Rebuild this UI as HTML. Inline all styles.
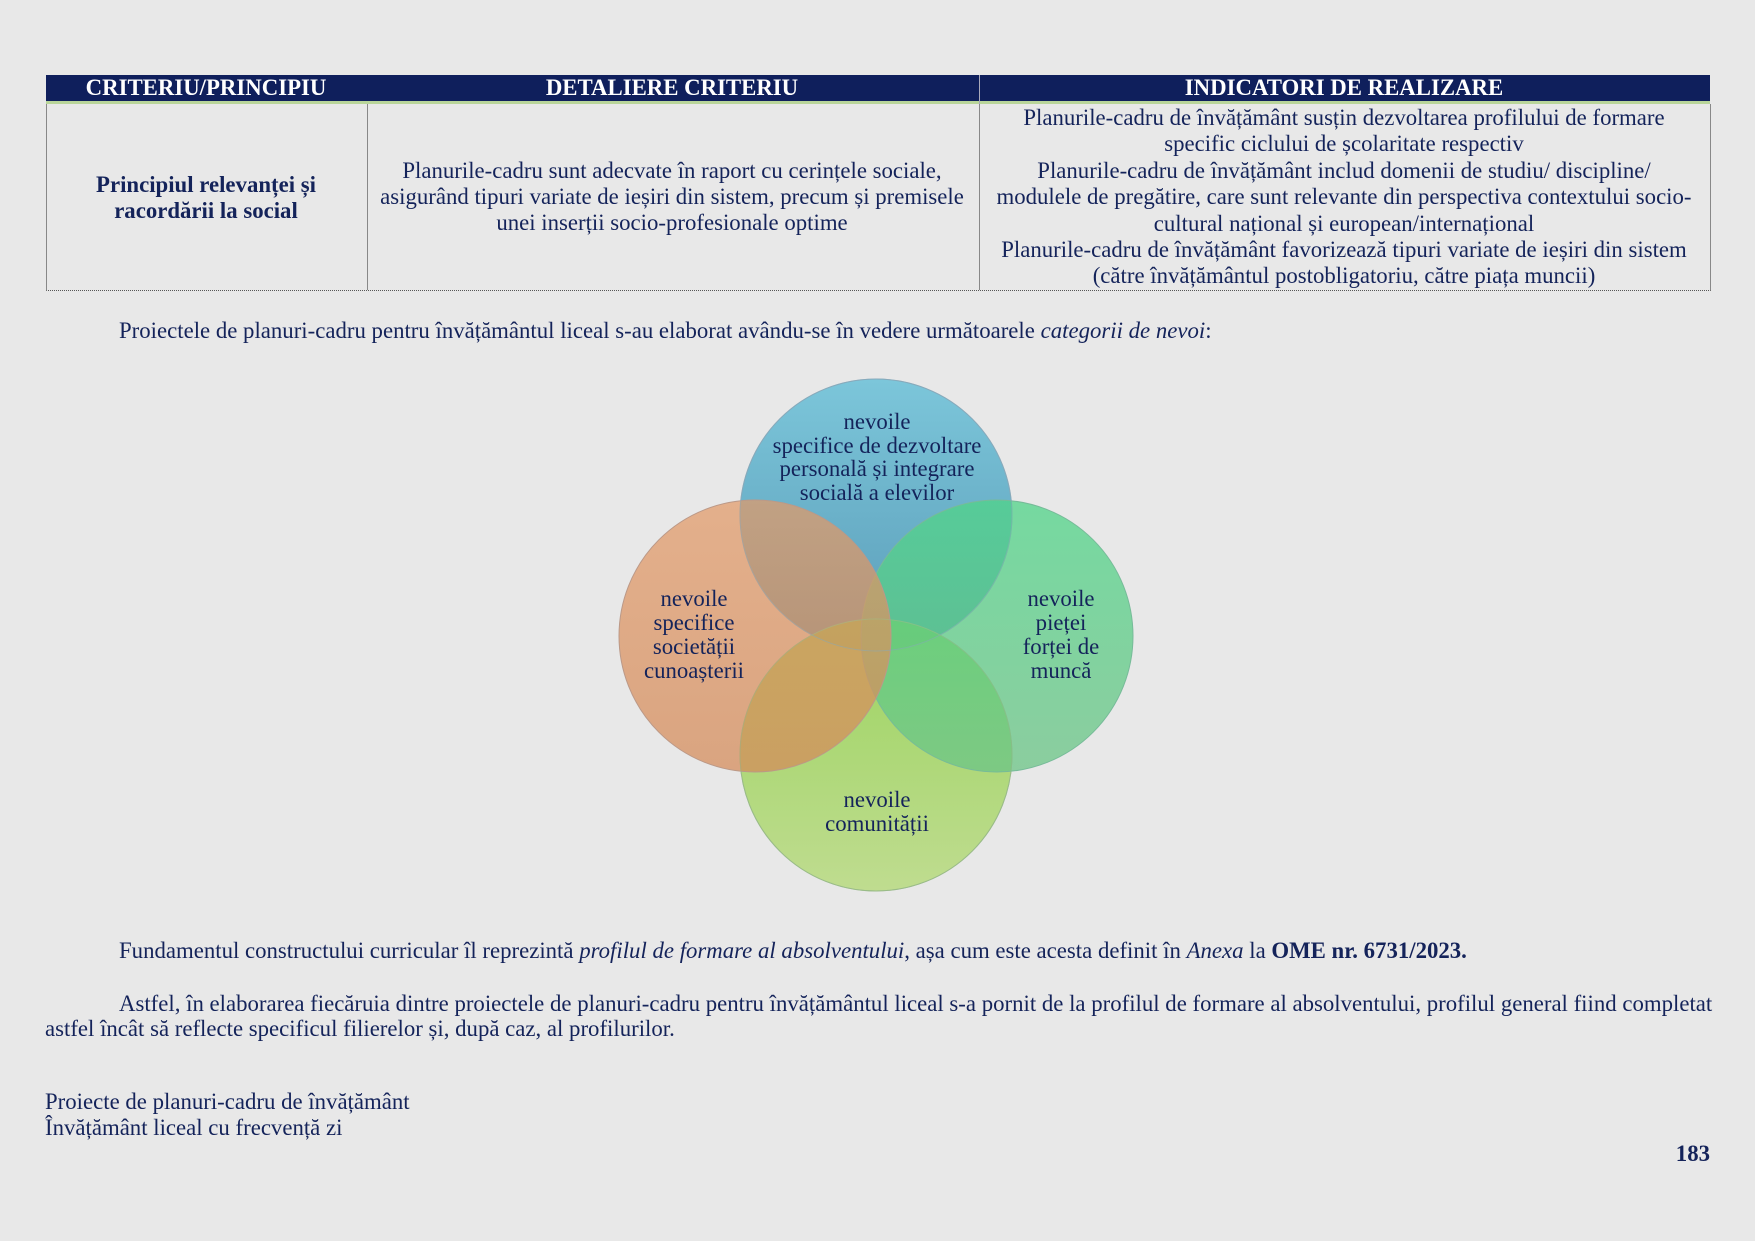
<!DOCTYPE html>
<html><head><meta charset="utf-8"><style>
body{margin:0;width:1755px;height:1241px;background:#e8e8e8;position:relative;overflow:hidden;font-family:"Liberation Serif",serif;color:#14235a;}
.a{position:absolute;white-space:nowrap;font-size:22.8px;line-height:26px;}
.c{transform:translateX(-50%);text-align:center;}
.hd{position:absolute;left:46px;top:75px;width:1664px;height:26px;background:#0f1f5c;border-bottom:3px solid #b9d59a;}
.h{color:#fff;font-weight:bold;line-height:26px;top:75px;}
.tb{position:absolute;left:46px;top:104px;width:1663px;height:186px;border-left:1px solid #888;border-right:1px solid #888;border-bottom:1px dotted #555;}
.v{position:absolute;top:104px;height:186px;border-left:1px solid #888;}
</style></head><body>
<div class="hd"></div>
<div class="a c h" style="left:206px">CRITERIU/PRINCIPIU</div>
<div class="a c h" style="left:672px">DETALIERE CRITERIU</div>
<div class="a c h" style="left:1344px">INDICATORI DE REALIZARE</div>
<div class="v" style="left:979px;top:75px;height:215px;border-color:#aab"></div>
<div class="tb"></div>
<div class="v" style="left:367px"></div>
<div class="v" style="left:979px"></div>
<div class="a c" style="left:206px;top:172px;font-weight:bold;">Principiul relevanței și<br>racordării la social</div>
<div class="a c" style="left:672px;top:158px;">Planurile-cadru sunt adecvate în raport cu cerințele sociale,<br>asigurând tipuri variate de ieșiri din sistem, precum și premisele<br>unei inserții socio-profesionale optime</div>
<div class="a c" style="left:1344px;top:105px;line-height:26.4px">Planurile-cadru de învățământ susțin dezvoltarea profilului de formare<br>specific ciclului de școlaritate respectiv<br>Planurile-cadru de învățământ includ domenii de studiu/ discipline/<br>modulele de pregătire, care sunt relevante din perspectiva contextului socio-<br>cultural național și european/internațional<br>Planurile-cadru de învățământ favorizează tipuri variate de ieșiri din sistem<br>(către învățământul postobligatoriu, către piața muncii)</div>
<div class="a" style="left:119px;top:318px;">Proiectele de planuri-cadru pentru învățământul liceal s-au elaborat avându-se în vedere următoarele <i>categorii de nevoi</i>:</div>
<svg style="position:absolute;left:0;top:0" width="1755" height="1241">
<defs>
<linearGradient id="gb" x1="0" y1="0" x2="0" y2="1"><stop offset="0" stop-color="#7cc6da"/><stop offset="1" stop-color="#5a9cb8"/></linearGradient>
<linearGradient id="go" x1="0" y1="0" x2="0" y2="1"><stop offset="0" stop-color="#e29a68"/><stop offset="1" stop-color="#d48a58"/></linearGradient>
<linearGradient id="gg" x1="0" y1="0" x2="0" y2="1"><stop offset="0" stop-color="#4fd488"/><stop offset="1" stop-color="#6cc486"/></linearGradient>
<linearGradient id="gl" x1="0" y1="0" x2="0" y2="1"><stop offset="0" stop-color="#8ed048"/><stop offset="1" stop-color="#b8da80"/></linearGradient>
</defs>
<circle cx="876" cy="515" r="136" fill="url(#gb)" stroke="#8ab" stroke-width="1"/>
<circle cx="876" cy="755" r="136" fill="url(#gl)" fill-opacity="0.85" stroke="#9b8" stroke-width="1"/>
<circle cx="997" cy="636" r="136" fill="url(#gg)" fill-opacity="0.75" stroke="#7b9" stroke-width="1"/>
<circle cx="755" cy="636" r="136" fill="url(#go)" fill-opacity="0.72" stroke="#b98" stroke-width="1"/>
<circle cx="876" cy="515" r="136" fill="none" stroke="#8ab" stroke-width="1" opacity="0.5"/>
<circle cx="876" cy="755" r="136" fill="none" stroke="#9b8" stroke-width="1" opacity="0.5"/>
</svg>
<div class="a c" style="left:877px;top:410px;line-height:23.5px">nevoile<br>specifice de dezvoltare<br>personală și integrare<br>socială a elevilor</div>
<div class="a c" style="left:694px;top:587px;line-height:24px">nevoile<br>specifice<br>societății<br>cunoașterii</div>
<div class="a c" style="left:1061px;top:587px;line-height:24px">nevoile<br>pieței<br>forței de<br>muncă</div>
<div class="a c" style="left:877px;top:788px;line-height:24px">nevoile<br>comunității</div>
<div class="a" style="left:119px;top:938px;">Fundamentul constructului curricular îl reprezintă <i>profilul de formare al absolventului</i>, așa cum este acesta definit în <i>Anexa</i> la <b>OME nr. 6731/2023.</b></div>
<div class="a" style="left:119px;top:991px;">Astfel, în elaborarea fiecăruia dintre proiectele de planuri-cadru pentru învățământul liceal s-a pornit de la profilul de formare al absolventului, profilul general fiind completat</div>
<div class="a" style="left:45px;top:1016px;">astfel încât să reflecte specificul filierelor și, după caz, al profilurilor.</div>
<div class="a" style="left:45px;top:1089px;">Proiecte de planuri-cadru de învățământ<br>Învățământ liceal cu frecvență zi</div>
<div class="a" style="right:45px;top:1141px;font-weight:bold;">183</div>
</body></html>
